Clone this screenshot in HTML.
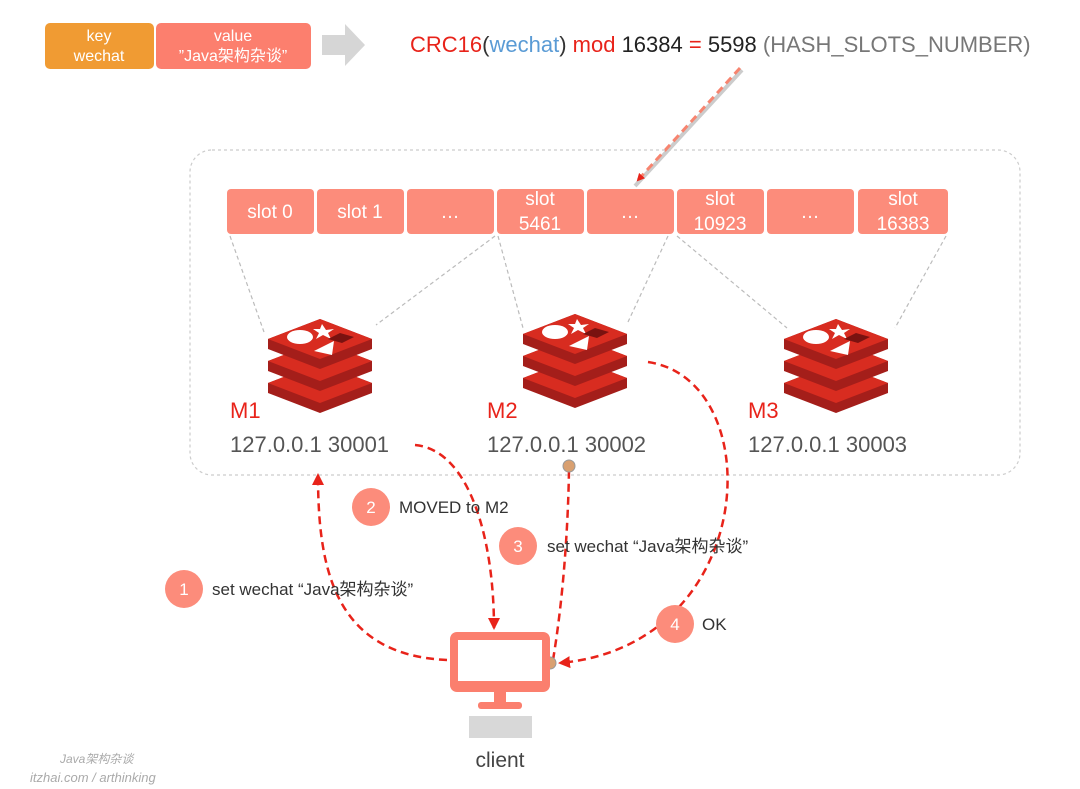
<!DOCTYPE html>
<html><head><meta charset="utf-8"><style>
body{margin:0;background:#fff;}
svg{display:block;font-family:"Liberation Sans","Noto Sans CJK SC",sans-serif;}
</style></head><body>
<svg width="1080" height="789" viewBox="0 0 1080 789" xmlns="http://www.w3.org/2000/svg">
<defs>
<marker id="ah" markerWidth="8" markerHeight="8" refX="6" refY="4" orient="auto" markerUnits="userSpaceOnUse"><path d="M0,0 L8,4 L0,8 z" fill="#e8231a"/></marker>
<marker id="ah2" markerWidth="12" markerHeight="12" refX="10" refY="6" orient="auto" markerUnits="userSpaceOnUse"><path d="M0,0 L12,6 L0,12 z" fill="#e8231a"/></marker>
<g id="redis">
 <g>
  <path d="M-52,44 L0,24 L52,44 L52,54 L0,74 L-52,54 z" fill="#a41e1a"/>
  <path d="M-52,44 L0,24 L52,44 L0,64 z" fill="#d82c20"/>
  <path d="M-52,22 L0,2 L52,22 L52,32 L0,52 L-52,32 z" fill="#a41e1a"/>
  <path d="M-52,22 L0,2 L52,22 L0,42 z" fill="#d82c20"/>
  <path d="M-52,0 L0,-20 L52,0 L52,10 L0,30 L-52,10 z" fill="#a41e1a"/>
  <path d="M-52,0 L0,-20 L52,0 L0,20 z" fill="#d82c20"/>
  <ellipse cx="-20" cy="-2" rx="13" ry="7" fill="#fff"/>
  <path d="M-6,12 L14,2 L12,16 z" fill="#fff"/>
  <path d="M2,-15 L6,-9 L14,-10 L8,-6 L11,0 L3,-4 L-4,0 L-1,-6 L-7,-10 L0,-10 z" fill="#fff"/>
  <path d="M20,-6 L34,-2 L22,4 L8,0 z" fill="#7a1210"/>
 </g>
</g>
</defs>
<rect x="45" y="23" width="109" height="46" rx="5" fill="#f09b33"/>
<text x="99" y="41" font-size="16" fill="#fff" text-anchor="middle">key</text>
<text x="99" y="61" font-size="16" fill="#fff" text-anchor="middle">wechat</text>
<rect x="156" y="23" width="155" height="46" rx="5" fill="#fc7f6e"/>
<text x="233" y="41" font-size="16" fill="#fff" text-anchor="middle">value</text>
<text x="233" y="61" font-size="16" fill="#fff" text-anchor="middle">”Java架构杂谈”</text>
<path d="M322,35 L345,35 L345,24 L365,45 L345,66 L345,55 L322,55 z" fill="#d6d6d6"/>
<text x="410" y="52" font-size="22"><tspan fill="#e8231a">CRC16</tspan><tspan fill="#333">(</tspan><tspan fill="#5a9bd5">wechat</tspan><tspan fill="#333">) </tspan><tspan fill="#e8231a">mod </tspan><tspan fill="#222">16384 </tspan><tspan fill="#e8231a">= </tspan><tspan fill="#222">5598 </tspan><tspan fill="#777">(HASH_SLOTS_NUMBER)</tspan></text>
<line x1="742" y1="70" x2="635" y2="186" stroke="#ccc" stroke-width="4"/>
<line x1="740" y1="68" x2="638" y2="180" stroke="#f7846f" stroke-width="3" stroke-dasharray="8,5" marker-end="url(#ah)"/>
<rect x="190" y="150" width="830" height="325" rx="22" fill="none" stroke="#ccc" stroke-width="1.2" stroke-dasharray="3,3"/>
<g fill="#fc8c7b">
<rect x="227" y="189" width="87" height="45" rx="4"/>
<rect x="317" y="189" width="87" height="45" rx="4"/>
<rect x="407" y="189" width="87" height="45" rx="4"/>
<rect x="497" y="189" width="87" height="45" rx="4"/>
<rect x="587" y="189" width="87" height="45" rx="4"/>
<rect x="677" y="189" width="87" height="45" rx="4"/>
<rect x="767" y="189" width="87" height="45" rx="4"/>
<rect x="858" y="189" width="90" height="45" rx="4"/>
</g>
<g fill="#fff" font-size="19" text-anchor="middle">
<text x="270" y="218">slot 0</text>
<text x="360" y="218">slot 1</text>
<text x="450" y="218">…</text>
<text x="540" y="205">slot</text><text x="540" y="230">5461</text>
<text x="630" y="218">…</text>
<text x="720" y="205">slot</text><text x="720" y="230">10923</text>
<text x="810" y="218">…</text>
<text x="903" y="205">slot</text><text x="903" y="230">16383</text>
</g>
<g stroke="#bbb" stroke-width="1.2" stroke-dasharray="4,3">
<line x1="230" y1="236" x2="264" y2="332"/>
<line x1="495" y1="236" x2="376" y2="325"/>
<line x1="498" y1="236" x2="523" y2="328"/>
<line x1="668" y1="236" x2="628" y2="322"/>
<line x1="677" y1="236" x2="787" y2="328"/>
<line x1="946" y1="236" x2="895" y2="328"/>
</g>
<use href="#redis" x="320" y="339"/>
<use href="#redis" x="575" y="334"/>
<use href="#redis" x="836" y="339"/>
<g font-size="22">
<text x="230" y="418" fill="#e8231a">M1</text>
<text x="487" y="418" fill="#e8231a">M2</text>
<text x="748" y="418" fill="#e8231a">M3</text>
<text x="230" y="452" fill="#555">127.0.0.1 30001</text>
<text x="487" y="452" fill="#555">127.0.0.1 30002</text>
<text x="748" y="452" fill="#555">127.0.0.1 30003</text>
</g>
<g fill="none" stroke="#e8231a" stroke-width="2.5" stroke-dasharray="8,5">
<path d="M447,660 C335,655 318,570 318,475" marker-end="url(#ah2)"/>
<path d="M415,445 C470,450 494,540 494,628" marker-end="url(#ah2)"/>
<path d="M553,660 C563,600 568,530 569,470"/>
<path d="M648,362 C770,380 760,645 560,663" marker-end="url(#ah2)"/>
</g>
<circle cx="569" cy="466" r="6" fill="#d9a070" stroke="#999"/>
<circle cx="550" cy="663" r="6" fill="#d9a070" stroke="#999"/>
<g font-size="17">
<circle cx="371" cy="507" r="19" fill="#fc8c7b"/><text x="371" y="513" fill="#fff" text-anchor="middle">2</text>
<text x="399" y="513" fill="#333">MOVED to M2</text>
<circle cx="518" cy="546" r="19" fill="#fc8c7b"/><text x="518" y="552" fill="#fff" text-anchor="middle">3</text>
<text x="547" y="552" fill="#333">set wechat “Java架构杂谈”</text>
<circle cx="184" cy="589" r="19" fill="#fc8c7b"/><text x="184" y="595" fill="#fff" text-anchor="middle">1</text>
<text x="212" y="595" fill="#333">set wechat “Java架构杂谈”</text>
<circle cx="675" cy="624" r="19" fill="#fc8c7b"/><text x="675" y="630" fill="#fff" text-anchor="middle">4</text>
<text x="702" y="630" fill="#333">OK</text>
</g>
<rect x="450" y="632" width="100" height="60" rx="7" fill="#fb7f6e"/>
<rect x="458" y="640" width="84" height="41" fill="#fff"/>
<rect x="494" y="690" width="12" height="14" fill="#fb7f6e"/>
<rect x="478" y="702" width="44" height="7" rx="3" fill="#fb7f6e"/>
<rect x="469" y="716" width="63" height="22" fill="#d8d8d8"/>
<text x="500" y="767" font-size="21" fill="#444" text-anchor="middle">client</text>
<text x="60" y="763" font-size="12" fill="#aaa" font-style="italic">Java架构杂谈</text>
<text x="30" y="782" font-size="13" fill="#aaa" font-style="italic">itzhai.com / arthinking</text>
</svg>
</body></html>
